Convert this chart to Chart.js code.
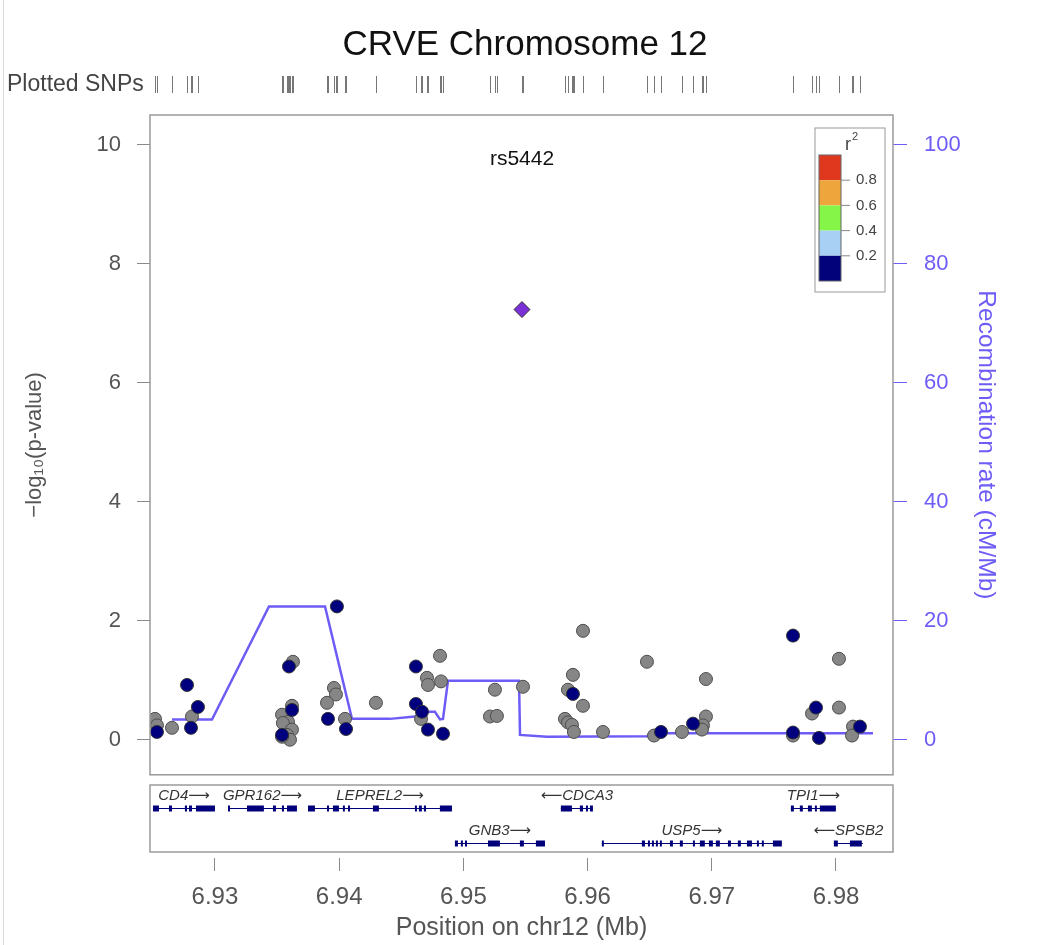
<!DOCTYPE html>
<html>
<head>
<meta charset="utf-8">
<title>CRVE Chromosome 12</title>
<script src="https://cdn.jsdelivr.net/npm/chart.js@4.4.1/dist/chart.umd.min.js"></script>
<style>
  html, body { margin: 0; padding: 0; background: #fff; }
  #wrap { position: relative; width: 1050px; height: 945px; }
  #main { position: absolute; left: 0; top: 0; }
  #genes { position: absolute; left: 0; top: 780px; }
  #edge { position: absolute; left: 3px; top: 0; width: 1px; height: 945px; background: #dadada; }
</style>
</head>
<body>
<div id="wrap">
  <canvas id="main" width="1050" height="805"></canvas>
  <canvas id="genes" width="1050" height="165"></canvas>
  <div id="edge"></div>
</div>
<script>
// LocusZoom style plot, chr12 around rs5442

const titleText = 'CRVE Chromosome 12';
const leadSnp = 'rs5442';
const leadPos = [6.95472];
const leadLogP = [7.23];

// SNPs with no LD information (grey)
const grayPos = [6.92517, 6.92533, 6.92654, 6.92815, 6.93628, 6.9362, 6.9354, 6.93588, 6.93547, 6.9362,
  6.9358, 6.93604, 6.9354, 6.93958, 6.93974, 6.93902, 6.94047, 6.94296, 6.94812, 6.94707,
  6.94715, 6.9482, 6.94659, 6.95254, 6.95214, 6.9527, 6.9548, 6.95963, 6.95882, 6.95842,
  6.95963, 6.95818, 6.95842, 6.95874, 6.9589, 6.96124, 6.96478, 6.96535, 6.9676, 6.96953,
  6.96953, 6.96929, 6.96921, 6.97654, 6.97807, 6.98024, 6.98024, 6.98137, 6.98129];
const grayLogP = [0.35, 0.24, 0.20, 0.39, 1.31, 0.57, 0.42, 0.30, 0.28, 0.17,
  0.08, 0.00, 0.05, 0.87, 0.76, 0.62, 0.35, 0.62, 1.41, 1.04,
  0.92, 0.98, 0.35, 0.84, 0.39, 0.40, 0.89, 1.83, 1.09, 0.84,
  0.57, 0.35, 0.29, 0.25, 0.13, 0.13, 1.31, 0.07, 0.13, 1.02,
  0.39, 0.24, 0.17, 0.07, 0.44, 1.36, 0.54, 0.22, 0.07];

// SNPs with r2 < 0.2 (navy)
const navyPos = [6.92533, 6.92775, 6.92863, 6.92807, 6.93596, 6.9362, 6.9354, 6.93982, 6.9391, 6.94055,
  6.94618, 6.94618, 6.94667, 6.94715, 6.94836, 6.95882, 6.96591, 6.96849, 6.97654, 6.97654,
  6.97839, 6.97863, 6.98193];
const navyLogP = [0.13, 0.92, 0.55, 0.20, 1.23, 0.50, 0.08, 2.24, 0.35, 0.18,
  1.23, 0.60, 0.47, 0.17, 0.10, 0.77, 0.13, 0.27, 1.75, 0.12,
  0.54, 0.03, 0.22];

// recombination rate (cM/Mb)
const recombPos = [6.92654, 6.92976, 6.93435, 6.93886, 6.94103, 6.94409, 6.9461, 6.94699, 6.94771, 6.94812,
  6.94836, 6.94876, 6.95448, 6.95456, 6.95673, 6.9648, 6.9652, 6.98298];
const recombRate = [3.4, 3.4, 22.4, 22.4, 3.5, 3.5, 3.9, 4.7, 4.7, 3.4,
  3.5, 9.9, 9.9, 0.8, 0.5, 0.6, 1.1, 1.1];

const xTicks = [6.93, 6.94, 6.95, 6.96, 6.97, 6.98];
const pTicks = [0, 2, 4, 6, 8, 10];
const rateTicks = [0, 20, 40, 60, 80, 100];

const legendColors = ['#e0381e', '#eea53b', '#85f548', '#a8d0f5', '#02027a'];
const legendBreaks = ['0.8', '0.6', '0.4', '0.2'];

// genes: row 1 = upper track, row 2 = lower track
const geneNames = ['CD4', 'GPR162', 'LEPREL2', 'GNB3', 'CDCA3', 'USP5', 'TPI1', 'SPSB2'];
const geneStrand = ['+', '+', '+', '+', '-', '+', '+', '-'];
const geneRow = [1, 1, 1, 2, 1, 2, 1, 2];
const geneStart = [6.92501, 6.93105, 6.93749, 6.94932, 6.95785, 6.96115, 6.97637, 6.97983];
const geneEnd = [6.93000, 6.93660, 6.94908, 6.95657, 6.96043, 6.97564, 6.97999, 6.98216];
const geneExons = [
  [[6.92501, 6.92549], [6.9263, 6.92654], [6.92758, 6.92775], [6.92791, 6.92815], [6.92847, 6.93]],
  [[6.93105, 6.93113], [6.93258, 6.93394], [6.93467, 6.93491], [6.93539, 6.93556], [6.9358, 6.9366]],
  [[6.93749, 6.93805], [6.93902, 6.93918], [6.9395, 6.93998], [6.9403, 6.94038], [6.94071, 6.94087],
   [6.94272, 6.9432], [6.9461, 6.94626], [6.94642, 6.94666], [6.94682, 6.94699], [6.94811, 6.94908]],
  [[6.94932, 6.94956], [6.9498, 6.94996], [6.95013, 6.95029], [6.95198, 6.95294], [6.95455, 6.95487], [6.95584, 6.95657]],
  [[6.95785, 6.95874], [6.95938, 6.95963], [6.95987, 6.95995], [6.96019, 6.96043]],
  [[6.96115, 6.96131], [6.96437, 6.96462], [6.96486, 6.96502], [6.96518, 6.96534], [6.9655, 6.96566],
   [6.96582, 6.9659], [6.96663, 6.96687], [6.96743, 6.96767], [6.96848, 6.96856], [6.96904, 6.96944],
   [6.96977, 6.97009], [6.97033, 6.97065], [6.9713, 6.97154], [6.9721, 6.97234], [6.97283, 6.97323],
   [6.97363, 6.97371], [6.97403, 6.97411], [6.97492, 6.97564]],
  [[6.97637, 6.97661], [6.97709, 6.97733], [6.97774, 6.97806], [6.9783, 6.97846], [6.9787, 6.97999]],
  [[6.97983, 6.98015], [6.98112, 6.98208]]
];

const xMin = 6.92477;
const xMax = 6.98459;

const axisGrey = '#555';
const recombColor = '#6e5cf6';
const geneColor = '#00007a';
const sans = '"Liberation Sans", Arial, sans-serif';

Chart.defaults.font.family = sans;

function toPoints(xs, ys) {
  return xs.map((x, i) => ({ x: x, y: ys[i] }));
}

// frame, title, SNP rug, lead label and r2 legend
const mainDecor = {
  id: 'mainDecor',
  afterDatasetsDraw(chart) {
    const ctx = chart.ctx;
    const area = chart.chartArea;
    const xs = chart.scales.x;
    const ys = chart.scales.y;
    ctx.save();

    ctx.strokeStyle = '#9a9a9a';
    ctx.lineWidth = 1.5;
    ctx.strokeRect(area.left, area.top, area.right - area.left, area.bottom - area.top);

    ctx.fillStyle = '#111';
    ctx.font = '35px ' + sans;
    ctx.textAlign = 'center';
    ctx.textBaseline = 'middle';
    ctx.fillText(titleText, chart.width / 2, 45);

    ctx.fillStyle = '#444';
    ctx.font = '23px ' + sans;
    ctx.textAlign = 'left';
    ctx.fillText('Plotted SNPs', 7, 85);

    ctx.strokeStyle = '#777';
    ctx.lineWidth = 1;
    grayPos.concat(navyPos, leadPos).forEach(p => {
      const px = Math.round(xs.getPixelForValue(p)) + 0.5;
      ctx.beginPath();
      ctx.moveTo(px, 76);
      ctx.lineTo(px, 93);
      ctx.stroke();
    });

    ctx.fillStyle = '#111';
    ctx.font = '21px ' + sans;
    ctx.textAlign = 'center';
    ctx.fillText(leadSnp, xs.getPixelForValue(leadPos[0]), ys.getPixelForValue(9.75));

    // r2 legend box
    const bx = area.right - 78, by = area.top + 13, bw = 70, bh = 164;
    ctx.strokeStyle = '#999';
    ctx.strokeRect(bx, by, bw, bh);
    ctx.fillStyle = '#444';
    ctx.font = '18px ' + sans;
    ctx.fillText('r', bx + 33, by + 17);
    ctx.font = '11px ' + sans;
    ctx.fillText('2', bx + 40, by + 9);
    const cellH = 25.2;
    const top = by + 27;
    legendColors.forEach((c, i) => {
      ctx.fillStyle = c;
      ctx.fillRect(bx + 4, top + i * cellH, 22, cellH);
    });
    ctx.strokeStyle = '#666';
    ctx.strokeRect(bx + 4, top, 22, cellH * legendColors.length);
    ctx.font = '15px ' + sans;
    ctx.textAlign = 'left';
    legendBreaks.forEach((b, i) => {
      const yy = top + (i + 1) * cellH;
      ctx.strokeStyle = '#888';
      ctx.beginPath();
      ctx.moveTo(bx + 26, yy);
      ctx.lineTo(bx + 35, yy);
      ctx.stroke();
      ctx.fillStyle = '#444';
      ctx.fillText(b, bx + 41, yy);
    });
    ctx.restore();
  }
};

new Chart(document.getElementById('main'), {
  type: 'scatter',
  data: {
    datasets: [
      {
        type: 'line',
        label: 'Recombination rate',
        data: toPoints(recombPos, recombRate),
        yAxisID: 'y1',
        borderColor: recombColor,
        borderWidth: 2.5,
        pointRadius: 0,
        tension: 0,
        fill: false,
        order: 10
      },
      {
        label: 'no LD info',
        data: toPoints(grayPos, grayLogP),
        backgroundColor: '#868686',
        borderColor: '#4d4d4d',
        borderWidth: 1,
        pointRadius: 6.5,
        order: 5
      },
      {
        label: 'r2 < 0.2',
        data: toPoints(navyPos, navyLogP),
        backgroundColor: '#00007f',
        borderColor: '#333',
        borderWidth: 1,
        pointRadius: 6.5,
        order: 3
      },
      {
        label: leadSnp,
        data: toPoints(leadPos, leadLogP),
        pointStyle: 'rectRot',
        backgroundColor: '#7b2fd6',
        borderColor: '#333',
        borderWidth: 1,
        pointRadius: 8,
        order: 1
      }
    ]
  },
  options: {
    responsive: false,
    animation: false,
    layout: { autoPadding: false, padding: { top: 115, bottom: 5, left: 0, right: 0 } },
    plugins: { legend: { display: false }, tooltip: { enabled: false } },
    scales: {
      x: { type: 'linear', display: false, min: xMin, max: xMax },
      y: {
        position: 'left',
        min: -0.59,
        max: 10.5,
        afterBuildTicks: s => { s.ticks = pTicks.map(v => ({ value: v })); },
        afterFit: s => { s.width = 150; },
        grid: { drawOnChartArea: false, tickLength: 13, color: '#8a8a8a' },
        border: { display: false },
        ticks: { color: axisGrey, font: { size: 22 }, padding: 16 },
        title: { display: true, text: '\u2212log\u2081\u2080(p-value)', color: axisGrey, font: { size: 22 }, padding: { top: 22 } }
      },
      y1: {
        position: 'right',
        min: -5.9,
        max: 105,
        afterBuildTicks: s => { s.ticks = rateTicks.map(v => ({ value: v })); },
        afterFit: s => { s.width = 157; },
        grid: { drawOnChartArea: false, tickLength: 14, color: recombColor },
        border: { display: false },
        ticks: { color: recombColor, font: { size: 22 }, padding: 17 },
        title: { display: true, text: 'Recombination rate (cM/Mb)', color: recombColor, font: { size: 24.5 }, padding: { top: 50 } }
      }
    }
  },
  plugins: [mainDecor]
});

// gene track drawn through the shared x scale
const geneTrack = {
  id: 'geneTrack',
  afterDraw(chart) {
    const ctx = chart.ctx;
    const area = chart.chartArea;
    const xs = chart.scales.x;
    const ys = chart.scales.y;
    ctx.save();
    ctx.strokeStyle = '#9a9a9a';
    ctx.lineWidth = 1.5;
    ctx.strokeRect(area.left, area.top, area.right - area.left, area.bottom - area.top - 6);

    geneNames.forEach((name, i) => {
      const y = Math.round(ys.getPixelForValue(geneRow[i]));
      const x1 = xs.getPixelForValue(geneStart[i]);
      const x2 = xs.getPixelForValue(geneEnd[i]);
      ctx.strokeStyle = geneColor;
      ctx.lineWidth = 1;
      ctx.beginPath();
      ctx.moveTo(x1, y + 0.5);
      ctx.lineTo(x2, y + 0.5);
      ctx.stroke();
      ctx.fillStyle = geneColor;
      geneExons[i].forEach(e => {
        const a = xs.getPixelForValue(e[0]);
        const b = xs.getPixelForValue(e[1]);
        ctx.fillRect(a, y - 2.5, Math.max(b - a, 2), 6);
      });
      const label = geneStrand[i] === '+' ? name + '\u27f6' : '\u27f5' + name;
      ctx.fillStyle = '#333';
      ctx.font = 'italic 15px "Liberation Sans", "DejaVu Sans", sans-serif';
      ctx.textAlign = 'center';
      ctx.textBaseline = 'middle';
      ctx.fillText(label, (x1 + x2) / 2, y - 12);
    });
    ctx.restore();
  }
};

new Chart(document.getElementById('genes'), {
  type: 'scatter',
  data: { datasets: [] },
  options: {
    responsive: false,
    animation: false,
    layout: { autoPadding: false, padding: { top: 5, bottom: 0, left: 0, right: 0 } },
    plugins: { legend: { display: false }, tooltip: { enabled: false } },
    scales: {
      x: {
        type: 'linear',
        position: 'bottom',
        min: xMin,
        max: xMax,
        afterBuildTicks: s => { s.ticks = xTicks.map(v => ({ value: v })); },
        afterFit: s => { s.height = 87; },
        grid: { drawOnChartArea: false, tickLength: 13, color: '#8a8a8a' },
        border: { display: false },
        ticks: { color: axisGrey, font: { size: 24 }, padding: 12, callback: v => Number(v).toFixed(2) },
        title: { display: true, text: 'Position on chr12 (Mb)', color: axisGrey, font: { size: 25 }, padding: { bottom: 2 } }
      },
      y: {
        position: 'left',
        reverse: true,
        min: 0.344,
        max: 2.427,
        afterFit: s => { s.width = 150; },
        grid: { display: false },
        border: { display: false },
        ticks: { display: false }
      },
      y2: {
        position: 'right',
        min: 0,
        max: 1,
        afterFit: s => { s.width = 157; },
        grid: { display: false },
        border: { display: false },
        ticks: { display: false }
      }
    }
  },
  plugins: [geneTrack]
});
</script>
</body>
</html>
